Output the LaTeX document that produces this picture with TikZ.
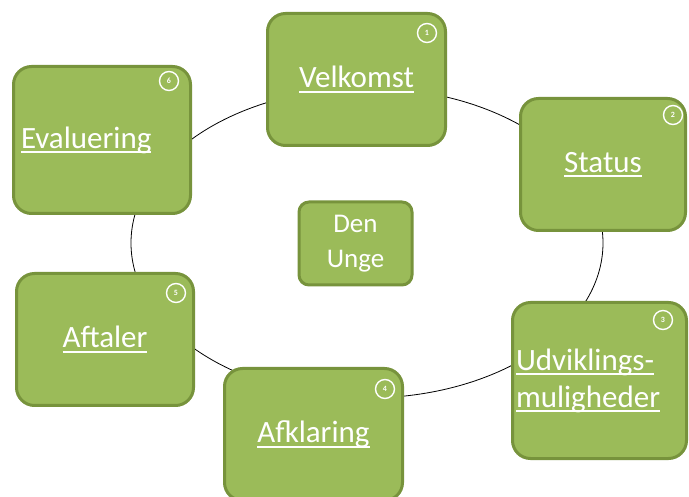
\documentclass[tikz,border=0pt]{standalone}
\usepackage{fontspec}
\setmainfont{Carlito}
\usetikzlibrary{shapes.geometric, positioning}
\definecolor{leaf}{HTML}{9BBB59}
\definecolor{leafedge}{HTML}{77933C}
\tikzset{
  stage/.style={draw=leafedge, line width=3pt, fill=leaf, rectangle,
    rounded corners=18pt, text=white, inner sep=4pt,
    font=\fontsize{31}{37}\selectfont},
  badge/.style={draw=white, line width=1.4pt, circle, minimum size=19pt,
    inner sep=0pt, text=white, font=\fontsize{8}{8}\selectfont\bfseries},
  ring/.style={draw, ellipse, line width=0.8pt}
}
\newsavebox{\stagebox}
\newcommand{\stagetext}[1]{\leavevmode\sbox{\stagebox}{#1}\rlap{\rule[-4.8pt]{\wd\stagebox}{1.9pt}}\usebox{\stagebox}}

\begin{document}
\begin{tikzpicture}[x=1pt, y=-1pt]
  \useasboundingbox (0,0) rectangle (689,497);
  \clip (0,0) rectangle (689,497);
  % the cycle behind the boxes
  \node[ring, minimum width=472pt, minimum height=310pt] (cycle) at (367,243) {};
  % the six steps
  \node[stage, minimum width=178pt, minimum height=132pt] (velkomst) at (356.5,79.5) {\stagetext{Velkomst}};
  \node[stage, minimum width=165pt, minimum height=132pt] (status) at (603,164.5) {\stagetext{Status}};
  \node[stage, minimum width=174pt, minimum height=156pt, inner xsep=3.5pt,
        text width=167pt, align=left] (udvikling) at (599.5,380.5)
        {\stagetext{Udviklings-}\\\stagetext{muligheder}};
  \node[stage, minimum width=178pt, minimum height=132pt] (afklaring) at (313.5,434.5) {\stagetext{Afklaring}};
  \node[stage, minimum width=177pt, minimum height=132pt] (aftaler) at (105,339.5) {\stagetext{Aftaler}};
  \node[stage, minimum width=177pt, minimum height=147pt, inner xsep=7.5pt,
        text width=162pt, align=left] (evaluering) at (102,140) {\stagetext{Evaluering}};
  % centre
  \node[stage, rounded corners=10pt, minimum width=113pt, minimum height=83pt,
        align=center, font=\fontsize{27}{35}\selectfont] (unge) at (355.5,243.5) {Den\\Unge};
  % numbers
  \node[badge] (n1) at ([shift={(-20,21)}]velkomst.north east) {1};
  \node[badge] (n2) at ([shift={(-14,18)}]status.north east) {2};
  \node[badge] (n3) at ([shift={(-25,19)}]udvikling.north east) {3};
  \node[badge] (n4) at ([shift={(-19,22)}]afklaring.north east) {4};
  \node[badge] (n5) at ([shift={(-19,21)}]aftaler.north east) {5};
  \node[badge] (n6) at ([shift={(-23,16)}]evaluering.north east) {6};
\end{tikzpicture}
\end{document}
